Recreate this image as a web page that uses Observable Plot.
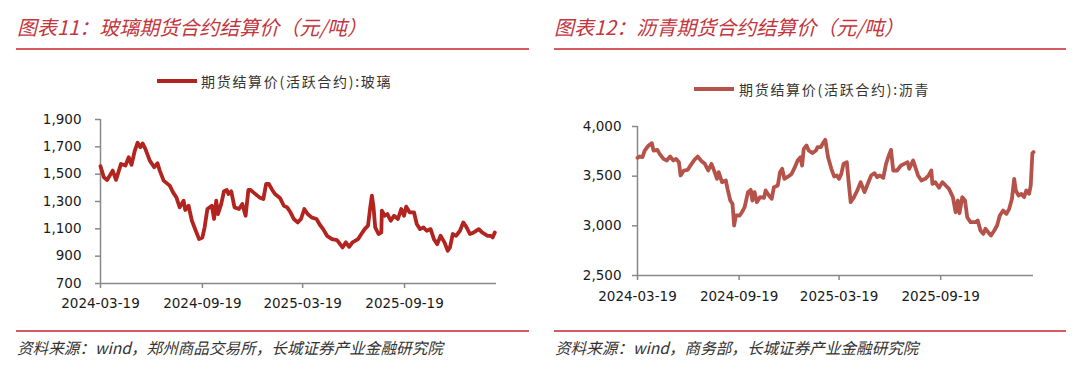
<!DOCTYPE html>
<html>
<head>
<meta charset="utf-8">
<script src="https://cdn.jsdelivr.net/npm/d3@7"></script>
<script src="https://cdn.jsdelivr.net/npm/@observablehq/plot@0.6"></script>
<style>
  html, body { margin: 0; padding: 0; background: #fff; }
  #page { position: relative; width: 1080px; height: 372px; overflow: hidden; background: #fff; }
  .title { position: absolute; top: 17px; font-family: "Noto Sans CJK SC", sans-serif; font-style: italic; font-size: 20px; line-height: 20px; color: #c3363e; white-space: nowrap; }
  .rule { position: absolute; height: 2px; background: #d65c60; }
  .swatch { position: absolute; width: 40px; height: 4px; }
  .legtext { position: absolute; font-family: "Noto Sans CJK SC", sans-serif; font-size: 14px; line-height: 14px; color: #333; letter-spacing: 1.7px; white-space: nowrap; }
  .caption { position: absolute; top: 339px; font-family: "Noto Sans CJK SC", sans-serif; font-style: italic; font-size: 15.6px; line-height: 16px; color: #333; white-space: nowrap; }
  .chart { position: absolute; top: 105px; }
</style>
</head>
<body>
<div id="page">
  <div class="title" style="left:17px">图表11：玻璃期货合约结算价（元/吨）</div>
  <div class="title" style="left:554px">图表12：沥青期货合约结算价（元/吨）</div>
  <div class="rule" style="left:16px;width:513px;top:48px"></div>
  <div class="rule" style="left:554px;width:512px;top:48px"></div>
  <div class="swatch" style="left:157px;top:79px;background:#b2241f"></div>
  <div class="legtext" style="left:201px;top:74px">期货结算价(活跃合约):玻璃</div>
  <div class="swatch" style="left:694px;top:87px;background:#b5534b"></div>
  <div class="legtext" style="left:739px;top:82px">期货结算价(活跃合约):沥青</div>
  <div class="chart" id="left" style="left:0px"></div>
  <div class="chart" id="right" style="left:540px"></div>
  <div class="rule" style="left:16px;width:513px;top:330px"></div>
  <div class="rule" style="left:554px;width:512px;top:330px"></div>
  <div class="caption" style="left:17px">资料来源：wind，郑州商品交易所，长城证券产业金融研究院</div>
  <div class="caption" style="left:555px">资料来源：wind，商务部，长城证券产业金融研究院</div>
</div>
<script>
// ---------- data ----------
const xTickLabels = ["2024-03-19", "2024-09-19", "2025-03-19", "2025-09-19"];

const glassDates = [
  "2024-03-19","2024-03-25","2024-03-31","2024-04-10","2024-04-16","2024-04-25","2024-05-03","2024-05-09",
  "2024-05-14","2024-05-20","2024-05-25","2024-05-30","2024-06-03","2024-06-08","2024-06-16","2024-06-24",
  "2024-06-30","2024-07-04","2024-07-11","2024-07-22","2024-07-28","2024-08-03","2024-08-09","2024-08-16",
  "2024-08-19","2024-08-25","2024-08-31","2024-09-07","2024-09-13","2024-09-19","2024-09-23","2024-09-28",
  "2024-10-06","2024-10-10","2024-10-14","2024-10-17","2024-10-23","2024-10-28","2024-11-02","2024-11-05",
  "2024-11-10","2024-11-16","2024-11-24","2024-11-30","2024-12-06","2024-12-11","2024-12-15","2024-12-20",
  "2024-12-25","2024-12-31","2025-01-07","2025-01-12","2025-01-17","2025-01-22","2025-01-28","2025-02-06",
  "2025-02-13","2025-02-19","2025-02-25","2025-03-03","2025-03-10","2025-03-16","2025-03-22","2025-03-28",
  "2025-04-04","2025-04-13","2025-04-19","2025-04-25","2025-05-02","2025-05-11","2025-05-20","2025-05-30",
  "2025-06-05","2025-06-11","2025-06-17","2025-06-27","2025-07-03","2025-07-09","2025-07-15","2025-07-19",
  "2025-07-22","2025-07-25","2025-07-28","2025-08-03","2025-08-08","2025-08-09","2025-08-14","2025-08-19",
  "2025-08-25","2025-08-31","2025-09-07","2025-09-13","2025-09-18","2025-09-22","2025-09-28","2025-10-06",
  "2025-10-11","2025-10-17","2025-10-23","2025-10-29","2025-11-05","2025-11-11","2025-11-17","2025-11-23",
  "2025-11-30","2025-12-06","2025-12-10","2025-12-15","2025-12-21","2025-12-28","2026-01-03","2026-01-09",
  "2026-01-15","2026-01-22","2026-01-31","2026-02-06","2026-02-16","2026-02-22","2026-02-25","2026-03-01"
];
const glassValues = [
  1558,1477,1458,1526,1458,1575,1563,1624,
  1568,1673,1730,1697,1725,1685,1599,1551,
  1580,1526,1453,1416,1367,1330,1257,1306,
  1238,1269,1159,1086,1025,1037,1111,1245,
  1269,1172,1306,1208,1282,1375,1384,1355,
  1375,1257,1245,1282,1196,1384,1384,1367,
  1350,1330,1318,1428,1428,1392,1355,1326,
  1269,1257,1221,1172,1147,1172,1245,1208,
  1184,1172,1130,1098,1049,1025,1018,964,
  1001,969,1001,1025,1062,1098,1123,1257,
  1343,1257,1111,1062,1074,1233,1196,1208,
  1159,1196,1172,1245,1196,1262,1221,1221,
  1135,1098,1111,1086,1098,1025,988,1049,
  1001,940,964,1062,1049,1086,1147,1111,
  1062,1074,1098,1074,1049,1049,1037,1074
];
const glassTicks = [700, 900, 1100, 1300, 1500, 1700, 1900];

const asphaltDates = [
  "2024-03-19","2024-03-23","2024-03-28","2024-04-01","2024-04-08","2024-04-14","2024-04-17","2024-04-24",
  "2024-04-28","2024-05-05","2024-05-11","2024-05-17","2024-05-23","2024-05-28","2024-06-02","2024-06-05",
  "2024-06-11","2024-06-18","2024-06-24","2024-06-30","2024-07-06","2024-07-13","2024-07-19","2024-07-25",
  "2024-07-31","2024-08-05","2024-08-10","2024-08-13","2024-08-19","2024-08-26","2024-08-29","2024-09-03",
  "2024-09-07","2024-09-10","2024-09-13","2024-09-20","2024-09-24","2024-09-29","2024-10-05","2024-10-10",
  "2024-10-13","2024-10-17","2024-10-21","2024-10-27","2024-11-03","2024-11-06","2024-11-12","2024-11-17",
  "2024-11-21","2024-11-28","2024-12-02","2024-12-06","2024-12-10","2024-12-17","2024-12-23","2024-12-29",
  "2025-01-03","2025-01-08","2025-01-11","2025-01-14","2025-01-19","2025-01-23","2025-01-30","2025-02-05",
  "2025-02-08","2025-02-14","2025-02-17","2025-02-22","2025-02-27","2025-03-05","2025-03-10","2025-03-15",
  "2025-03-19","2025-03-23","2025-03-27","2025-04-02","2025-04-05","2025-04-09","2025-04-15","2025-04-21",
  "2025-04-27","2025-05-04","2025-05-10","2025-05-16","2025-05-22","2025-05-27","2025-06-01","2025-06-07",
  "2025-06-12","2025-06-17","2025-06-21","2025-06-25","2025-07-02","2025-07-09","2025-07-15","2025-07-21",
  "2025-07-24","2025-07-31","2025-08-04","2025-08-09","2025-08-15","2025-08-22","2025-08-28","2025-09-02",
  "2025-09-04","2025-09-09","2025-09-16","2025-09-22","2025-09-28","2025-10-04","2025-10-11","2025-10-16",
  "2025-10-20","2025-10-23","2025-10-28","2025-11-02","2025-11-06","2025-11-12","2025-11-21","2025-11-25",
  "2025-11-30","2025-12-05","2025-12-09","2025-12-14","2025-12-19","2025-12-25","2025-12-30","2026-01-04",
  "2026-01-10","2026-01-16","2026-01-21","2026-01-26","2026-01-30","2026-02-02","2026-02-07","2026-02-12",
  "2026-02-17","2026-02-21","2026-02-26","2026-03-01","2026-03-04","2026-03-06"
];
const asphaltValues = [
  3685,3698,3691,3758,3809,3832,3758,3765,
  3725,3674,3658,3698,3658,3674,3641,3507,
  3557,3564,3617,3664,3698,3651,3624,3557,
  3624,3550,3473,3540,3440,3456,3372,3255,
  3221,3003,3104,3104,3137,3188,3339,3362,
  3255,3339,3238,3289,3282,3356,3305,3272,
  3389,3406,3540,3574,3473,3497,3523,3591,
  3658,3691,3607,3775,3809,3758,3732,3758,
  3792,3792,3825,3866,3691,3574,3497,3507,
  3473,3523,3624,3641,3456,3238,3289,3356,
  3440,3339,3423,3507,3530,3490,3507,3483,
  3624,3708,3765,3557,3557,3607,3624,3641,
  3574,3658,3591,3507,3456,3473,3507,3557,
  3423,3440,3383,3440,3406,3372,3289,3137,
  3255,3127,3289,3255,3087,3037,3037,3054,
  2953,2919,2970,2936,2903,2953,3003,3104,
  3154,3121,3171,3272,3473,3356,3305,3322,
  3289,3356,3322,3406,3732,3742
];
const asphaltTicks = [2500, 3000, 3500, 4000];

// ---------- helpers ----------
const parse = d3.utcParse("%Y-%m-%d");
const fmtDate = d3.utcFormat("%Y-%m-%d");
const xTicks = xTickLabels.map(parse);

function makeChart({dates, values, yTicks, color, xEnd, marginLeft, marginRight, marginTop, marginBottom, yPad, xPad}) {
  const data = dates.map((d, i) => ({date: parse(d), value: values[i]}));
  const x0 = parse(dates[0]);
  const yMin = yTicks[0];
  return Plot.plot({
    width: 540,
    height: 215,
    marginLeft, marginRight, marginTop, marginBottom,
    style: {fontFamily: "'DejaVu Sans', sans-serif", fontSize: "13.5px", background: "transparent", overflow: "visible"},
    x: {type: "utc", domain: [x0, parse(xEnd)]},
    y: {domain: [yTicks[0], yTicks[yTicks.length - 1]]},
    marks: [
      Plot.axisX(xTicks, {tickSize: 5, tickPadding: xPad, tickFormat: fmtDate, stroke: "#888", strokeWidth: 1.5, fill: "#1a1a1a", fontSize: 13.5, label: null}),
      Plot.axisY(yTicks, {tickSize: 5, tickPadding: yPad, tickFormat: d3.format(","), stroke: "#888", strokeWidth: 1.5, fill: "#1a1a1a", fontSize: 13.5, label: null}),
      Plot.ruleY([yMin], {stroke: "#888", strokeWidth: 1.5}),
      Plot.ruleX([x0], {stroke: "#888", strokeWidth: 1.5}),
      Plot.line(data, {x: "date", y: "value", stroke: color, strokeWidth: 3.8, strokeLinejoin: "round", strokeLinecap: "round"})
    ]
  });
}

document.getElementById("left").appendChild(makeChart({
  dates: glassDates, values: glassValues, yTicks: glassTicks, color: "#b2241f",
  xEnd: "2026-03-04", marginLeft: 100, marginRight: 44, marginTop: 14, marginBottom: 37, yPad: 14, xPad: 10
}));
document.getElementById("right").appendChild(makeChart({
  dates: asphaltDates, values: asphaltValues, yTicks: asphaltTicks, color: "#b5534b",
  xEnd: "2026-03-06", marginLeft: 97, marginRight: 47, marginTop: 21, marginBottom: 45, yPad: 11, xPad: 11
}));
</script>
</body>
</html>
